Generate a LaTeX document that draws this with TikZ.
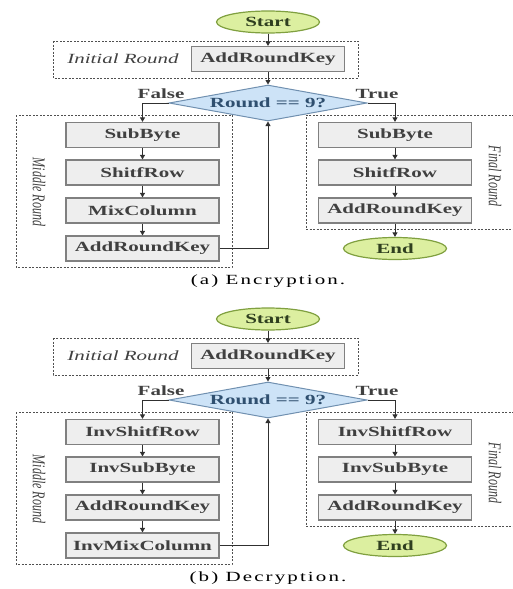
\documentclass[tikz,border=0pt]{standalone}
\usepackage{fontspec}
\setmainfont{Liberation Serif}
\newfontfamily\wideserif[FakeStretch=1.5]{Liberation Serif}
\newfontfamily\capserif[FakeStretch=1.5,LetterSpace=15]{Liberation Serif}
\usetikzlibrary{shapes.geometric,arrows.meta}
\definecolor{boxfill}{HTML}{EEEEEE}
\definecolor{boxline}{HTML}{808080}
\definecolor{boxtext}{HTML}{404040}
\definecolor{diafill}{HTML}{CDE3F7}
\definecolor{dialine}{HTML}{7090B0}
\definecolor{diatext}{HTML}{2F4F6F}
\definecolor{ovfill}{HTML}{DCEFA0}
\definecolor{ovline}{HTML}{80A040}
\definecolor{ovtext}{HTML}{2F3F1F}
\definecolor{dashline}{HTML}{505050}
\definecolor{arrline}{HTML}{303030}
\tikzset{
  wfont/.style={font=\wideserif\bfseries\fontsize{14}{14}\selectfont},
  stepbox/.style={wfont, draw=boxline, line width=1.2pt, fill=boxfill, text=boxtext,
    minimum width=153pt, minimum height=25pt, inner sep=0pt},
  terminal/.style={wfont, ellipse, draw=ovline, line width=1.2pt, fill=ovfill, text=ovtext,
    minimum width=103pt, minimum height=22pt, inner sep=0pt},
  decision/.style={wfont, diamond, aspect=5.4, draw=dialine, line width=1pt, fill=diafill,
    text=diatext, minimum width=198pt, minimum height=36pt, inner sep=0pt},
  roundframe/.style={draw=dashline, line width=1pt, dash pattern=on 2pt off 1.5pt},
  arr/.style={draw=arrline, line width=0.9pt, -{Triangle[length=4.5pt,width=5pt]}},
  branchlbl/.style={wfont, text=boxtext},
  sidelbl/.style={font=\wideserif\itshape\fontsize{14}{14}\selectfont, text=boxtext},
  vertlbl/.style={font=\itshape\fontsize{12}{12}\selectfont, text=boxtext, rotate=-90},
  caption/.style={font=\capserif\fontsize{14}{14}\selectfont, text=black}
}
\begin{document}
\begin{tikzpicture}[x=1pt,y=-1pt]
\useasboundingbox (0,0) rectangle (513,589);
% ---------------- (a) Encryption ----------------
\begin{scope}
\draw[roundframe] (53,41) rectangle (358,78);
\draw[roundframe] (16,115) rectangle (232,267);
\draw[roundframe] (514,115) -- (306,115) -- (306,229) -- (514,229);
\node[terminal] (a-start) at (268,22) {Start};
\node[sidelbl] (a-init) at (123,59) {Initial Round};
\node[stepbox] (a-ark) at (268,59) {AddRoundKey};
\node[decision] (a-dia) at (268,103) {Round == 9?};
\node[branchlbl] (a-false) at (161,94) {False};
\node[branchlbl] (a-true) at (377,94) {True};
\node[stepbox] (a-m1) at (142.5,135) {SubByte};
\node[stepbox] (a-m2) at (142.5,172.5) {ShitfRow};
\node[stepbox] (a-m3) at (142.5,210.5) {MixColumn};
\node[stepbox] (a-m4) at (142.5,248.5) {AddRoundKey};
\node[stepbox] (a-f1) at (395,135) {SubByte};
\node[stepbox] (a-f2) at (395,172.5) {ShitfRow};
\node[stepbox] (a-f3) at (395,210.5) {AddRoundKey};
\node[terminal] (a-end) at (395,248.5) {End};
\node[vertlbl] (a-mid) at (39,192) {\scalebox{1}[1.5]{Middle Round}};
\node[vertlbl] (a-fin) at (495,176) {\scalebox{1}[1.5]{Final Round}};
\node[caption] (a-cap) at (268,281) {(a) Encryption.};
\draw[arr] (a-start) -- (a-ark);
\draw[arr] (a-ark) -- (a-dia);
\draw[arr] (a-dia.west) -| (a-m1.north);
\draw[arr] (a-dia.east) -| (a-f1.north);
\draw[arr] (a-m1) -- (a-m2);
\draw[arr] (a-m2) -- (a-m3);
\draw[arr] (a-m3) -- (a-m4);
\draw[arr] (a-m4.east) -| (a-dia.south);
\draw[arr] (a-f1) -- (a-f2);
\draw[arr] (a-f2) -- (a-f3);
\draw[arr] (a-f3) -- (a-end);
\end{scope}
% ---------------- (b) Decryption ----------------
\begin{scope}[yshift=-297pt]
\draw[roundframe] (53,41) rectangle (358,78);
\draw[roundframe] (16,115) rectangle (232,267);
\draw[roundframe] (514,115) -- (306,115) -- (306,229) -- (514,229);
\node[terminal] (b-start) at (268,22) {Start};
\node[sidelbl] (b-init) at (123,59) {Initial Round};
\node[stepbox] (b-ark) at (268,59) {AddRoundKey};
\node[decision] (b-dia) at (268,103) {Round == 9?};
\node[branchlbl] (b-false) at (161,94) {False};
\node[branchlbl] (b-true) at (377,94) {True};
\node[stepbox] (b-m1) at (142.5,135) {InvShitfRow};
\node[stepbox] (b-m2) at (142.5,172.5) {InvSubByte};
\node[stepbox] (b-m3) at (142.5,210.5) {AddRoundKey};
\node[stepbox] (b-m4) at (142.5,248.5) {InvMixColumn};
\node[stepbox] (b-f1) at (395,135) {InvShitfRow};
\node[stepbox] (b-f2) at (395,172.5) {InvSubByte};
\node[stepbox] (b-f3) at (395,210.5) {AddRoundKey};
\node[terminal] (b-end) at (395,248.5) {End};
\node[vertlbl] (b-mid) at (39,192) {\scalebox{1}[1.5]{Middle Round}};
\node[vertlbl] (b-fin) at (495,176) {\scalebox{1}[1.5]{Final Round}};
\node[caption] (b-cap) at (268,281) {(b) Decryption.};
\draw[arr] (b-start) -- (b-ark);
\draw[arr] (b-ark) -- (b-dia);
\draw[arr] (b-dia.west) -| (b-m1.north);
\draw[arr] (b-dia.east) -| (b-f1.north);
\draw[arr] (b-m1) -- (b-m2);
\draw[arr] (b-m2) -- (b-m3);
\draw[arr] (b-m3) -- (b-m4);
\draw[arr] (b-m4.east) -| (b-dia.south);
\draw[arr] (b-f1) -- (b-f2);
\draw[arr] (b-f2) -- (b-f3);
\draw[arr] (b-f3) -- (b-end);
\end{scope}
\end{tikzpicture}
\end{document}
